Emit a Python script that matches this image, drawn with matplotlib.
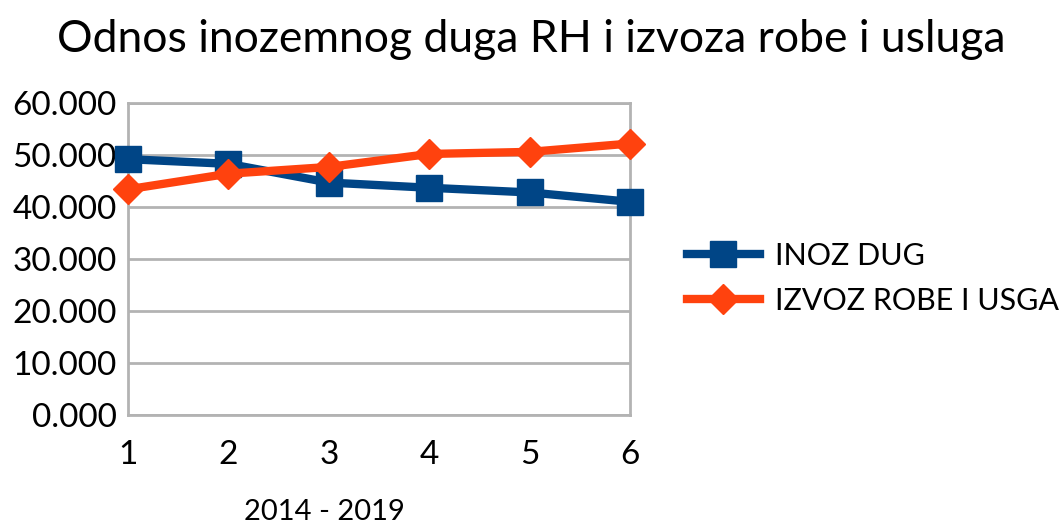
import matplotlib.pyplot as plt
from matplotlib.ticker import FuncFormatter

plt.rcParams['font.family'] = ['Lato', 'DejaVu Sans']

x = [1, 2, 3, 4, 5, 6]
inoz_dug = [49.2, 48.3, 44.7, 43.7, 42.8, 41.0]
izvoz = [43.4, 46.4, 47.7, 50.2, 50.6, 52.2]
yticks = [0, 10, 20, 30, 40, 50, 60]

fig = plt.figure(figsize=(10.63, 5.29), dpi=100)
ax = fig.add_axes([0.1204, 0.2155, 0.4723, 0.5898])

ax.plot(x, inoz_dug, color='#004586', lw=6, marker='s', ms=19,
        label='INOZ DUG', zorder=3, clip_on=False)
ax.plot(x, izvoz, color='#ff420e', lw=6, marker='D', ms=15,
        label='IZVOZ ROBE I USGA', zorder=4, clip_on=False)

ax.set_xlim(1, 6)
ax.set_ylim(0, 60)
ax.set_xticks(x)
ax.set_yticks(yticks)
ax.yaxis.set_major_formatter(FuncFormatter(lambda v, p: f"{v:.3f}"))
ax.grid(axis='y', color='#b3b3b3', lw=2)
ax.set_axisbelow(True)
for s in ax.spines.values():
    s.set_color('#b3b3b3')
    s.set_linewidth(2)
ax.tick_params(length=0, labelsize=24, pad=8)
ax.tick_params(axis='x', pad=18)

ax.set_xlabel('2014 - 2019', fontsize=21)
ax.xaxis.set_label_coords(0.392, -0.27)
fig.suptitle('Odnos inozemnog duga RH i izvoza robe i usluga', fontsize=32, y=0.965)

fig.legend(loc='center left', bbox_to_anchor=(0.62, 0.474), frameon=False,
           fontsize=22, handlelength=2.4, handletextpad=0.5, labelspacing=0.55)

fig.savefig('out.png', dpi=100)
